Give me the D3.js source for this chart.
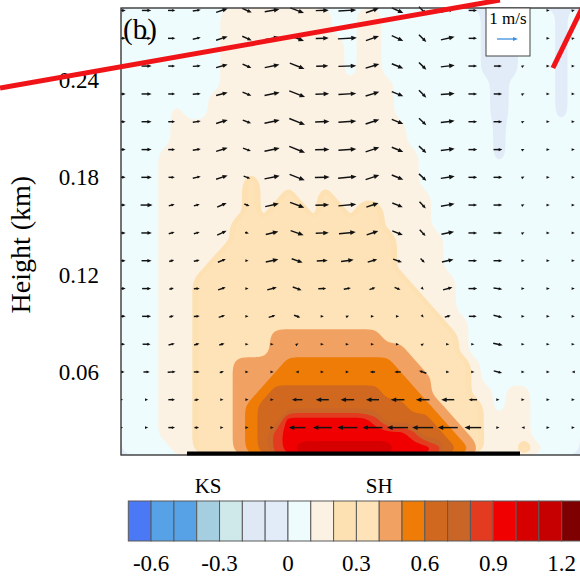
<!DOCTYPE html>
<html>
<head>
<meta charset="utf-8">
<script src="https://cdn.jsdelivr.net/npm/d3@7"></script>
<style>
  html, body { margin: 0; padding: 0; background: #fff; }
  svg { display: block; font-family: "Liberation Serif", "Times New Roman", serif; }
</style>
</head>
<body>
<svg id="chart" width="580" height="576"></svg>
<script>
// shading levels (lower bound of each band) and band colours
const levels = [-0.7, -0.6, -0.5, -0.4, -0.3, -0.2, -0.1, 0, 0.1, 0.2, 0.3, 0.4, 0.5, 0.6, 0.7, 0.8, 0.9, 1.0, 1.1, 1.2];
const fills = ['#4b79f5', '#57a1e7', '#57a1e7', '#a5cfe1', '#cfe9eb', '#dfe9f6', '#e2ecf8', '#effcfd',
               '#fcf2e4', '#fde1b2', '#fde3b7', '#f1a162', '#ee7c06', '#d0691f', '#c96527', '#e23b1f',
               '#f00000', '#d60000', '#c60000', '#7f0000'];
const cbTicks = [-0.6, -0.3, 0, 0.3, 0.6, 0.9, 1.2];
const cbNames = [{ label: 'KS', at: -0.35 }, { label: 'SH', at: 0.4 }];

// axes extents: horizontal grid units, height in km
const xRange = [-0.02, 18.27];
const zRange = [0.0088, 0.2844];
const yTicks = [0.06, 0.12, 0.18, 0.24];

// shaded field: one character per cell, top row first
const shadeCodes = { m: -0.15, n: -0.05, '0': 0.05, '1': 0.15, '2': 0.25, '3': 0.35, '4': 0.45,
                     '5': 0.55, '6': 0.65, '7': 0.75, '8': 0.85, '9': 0.95, A: 1.05, B: 1.15 };
const shadeRows = [
  '00000000111111111001100000000nnn000n0',
  '00000000111111111001100000000nnn000n0',
  '00000000111111111101100000000nnn000n0',
  '00000000111111111101100000000nnn000n0',
  '00000000111111111101100000000nnn000n0',
  '000000001111111111111100000000m0000n0',
  '000000011111111111111100000000m0000n0',
  '000010011111111111111100000000m0000n0',
  '000011111111111111111110000000n000000',
  '000011111111111111111110000000n000000',
  '000111111111111111111111000000n000000',
  '0001111111111111111111110000000000000',
  '0001111111311111111111110000000000000',
  '0001111111311311311111111000000000000',
  '0001111111313331331331111000000000000',
  '0001111113333333333331111000000000000',
  '0001111113333333333333111100000000000',
  '0001111133333333333333111100000000000',
  '0001111333333333333333111100000000000',
  '0001113333333333333333311110000000000',
  '0001113333333333333333331110000000000',
  '0001113333333333333333333110000000000',
  '0001113333333333333333333311000000000',
  '0001113333334444444443333331000000000',
  '0001113333334444444444433331000000000',
  '0001113334444555555555443333100000000',
  '0001113334445555555555544333100000000',
  '0001113334456666666665554333110110000',
  '0001113334566666666666655433310110000',
  '0001113334566999999986666543311110000',
  '0001113334568999999999986654311110000',
  '00001133345689AAAAAAAA999865411131000'
];

// wind vectors (m/s), rows from top to bottom
const xArrow = [0, 1, 2, 3, 4, 5, 6, 7, 8, 9, 10, 11, 12, 13, 14, 15, 16, 17, 18];
const zArrow = [0.2829, 0.2657, 0.2486, 0.2314, 0.2143, 0.1971, 0.1800, 0.1629,
                0.1457, 0.1286, 0.1114, 0.0943, 0.0771, 0.0600, 0.0429, 0.0257];
const uRows = [
  [0.4, 0.45, 0.35, 0.38, 0.55, 0.45, 0.7, 0.65, 0.62, 0.85, 0.62, 0.55, 0.35, 0.65, 0.4, 0.35, 0.15, 0.08, 0.08],
  [0.4, 0.45, 0.35, 0.38, 0.55, 0.45, 0.7, 0.65, 0.62, 0.9, 0.62, 0.55, 0.35, 0.65, 0.4, 0.35, 0.15, 0.08, 0.08],
  [0.4, 0.48, 0.33, 0.38, 0.55, 0.42, 0.7, 0.7, 0.58, 0.85, 0.65, 0.55, 0.35, 0.66, 0.42, 0.38, 0.1, 0.06, 0.06],
  [0.4, 0.48, 0.33, 0.38, 0.55, 0.42, 0.72, 0.75, 0.65, 0.85, 0.65, 0.55, 0.35, 0.66, 0.42, 0.4, 0.1, 0.06, 0.08],
  [0.4, 0.48, 0.33, 0.38, 0.55, 0.4, 0.72, 0.75, 0.68, 0.85, 0.65, 0.55, 0.35, 0.66, 0.42, 0.42, 0.1, 0.06, 0.08],
  [0.4, 0.48, 0.33, 0.38, 0.55, 0.38, 0.72, 0.75, 0.68, 0.85, 0.65, 0.55, 0.35, 0.66, 0.42, 0.42, 0.1, 0.06, 0.08],
  [0.4, 0.5, 0.3, 0.38, 0.55, 0.32, 0.72, 0.72, 0.7, 0.88, 0.65, 0.55, 0.35, 0.66, 0.42, 0.42, 0.1, 0.06, 0.06],
  [0.4, 0.57, 0.28, 0.28, 0.45, 0.25, 0.65, 0.68, 0.65, 0.85, 0.58, 0.5, 0.3, 0.65, 0.42, 0.42, 0.1, 0.06, 0.06],
  [0.4, 0.5, 0.28, 0.28, 0.45, 0.18, 0.6, 0.62, 0.62, 0.8, 0.55, 0.5, 0.28, 0.6, 0.42, 0.42, 0.08, 0.06, 0.06],
  [0.4, 0.48, 0.24, 0.28, 0.38, 0.08, 0.6, 0.52, 0.52, 0.6, 0.45, 0.42, 0.2, 0.55, 0.42, 0.42, 0.08, 0.06, 0.06],
  [0.4, 0.43, 0.22, 0.28, 0.36, 0.06, 0.46, 0.42, 0.38, 0.34, 0.28, 0.28, 0.08, 0.45, 0.42, 0.42, 0.08, 0.06, 0.06],
  [0.4, 0.43, 0.22, 0.28, 0.3, 0.06, 0.32, 0.3, 0.1, 0.15, 0.06, 0.06, 0.05, 0.28, 0.38, 0.42, 0.06, 0.06, 0.08],
  [0.35, 0.38, 0.3, 0.25, 0.25, 0.06, 0.08, 0.06, 0.06, 0.06, 0.06, 0.06, 0.08, 0.06, 0.06, 0.45, 0.06, 0.06, 0.06],
  [0.3, 0.3, 0.38, 0.28, 0.2, 0.06, 0.06, -0.06, 0.06, 0.06, -0.25, -0.3, -0.35, 0.06, 0.06, 0.4, 0.06, 0.06, -0.08],
  [0.15, 0.15, 0.32, 0.22, 0.1, 0.06, 0.06, -0.5, -0.62, -0.65, -0.62, -0.65, -0.65, -0.62, -0.4, 0.06, 0.06, 0.06, 0.06],
  [0.12, 0.12, 0.32, 0.22, 0.06, 0.06, 0.06, -0.8, -0.9, -0.95, -0.95, -1.0, -1.0, -0.95, -0.8, 0.06, -0.15, 0.06, 0.06]
];
const wRows = [
  [0, 0, 0, 0.06, 0.18, -0.2, 0.12, -0.25, 0.02, 0.05, 0.22, -0.25, -0.35, 0.15, 0, 0, 0.05, 0, 0.02],
  [0, 0, 0, 0.08, 0.18, -0.2, 0.12, -0.25, 0.02, 0.05, 0.22, -0.25, -0.35, 0.15, 0, 0, 0.05, 0, 0.02],
  [0, 0, 0, 0.03, 0.15, -0.18, 0.15, -0.28, 0.02, 0.03, 0.2, -0.22, -0.35, 0.08, 0, 0, 0.06, 0, 0],
  [0, 0, 0, 0.03, 0.15, -0.18, 0.15, -0.3, 0.02, 0.05, 0.2, -0.22, -0.35, 0.05, 0, 0, 0.05, 0, 0],
  [0, 0, 0, 0.06, 0.17, -0.15, 0.15, -0.3, 0.02, 0.06, 0.22, -0.22, -0.33, 0.08, 0, 0, 0.05, 0, 0],
  [0, 0, 0, 0.06, 0.17, -0.14, 0.15, -0.3, 0.02, 0.06, 0.22, -0.22, -0.33, 0.08, 0, 0, 0.05, 0, 0],
  [0, 0, 0, 0.08, 0.18, -0.12, 0.15, -0.28, 0.02, 0.08, 0.22, -0.22, -0.33, 0.1, 0, 0, 0.05, 0, 0],
  [0, 0, 0.08, 0.08, 0.2, -0.1, 0.15, -0.25, 0.02, 0.08, 0.2, -0.2, -0.32, 0.12, 0, 0, 0.05, 0, 0],
  [0, 0, 0.08, 0.08, 0.2, -0.06, 0.15, -0.22, 0.02, 0.08, 0.18, -0.2, -0.3, 0.12, 0, 0, 0.04, 0, 0],
  [0, 0, 0.07, 0.06, 0.15, 0, 0.13, -0.18, 0.02, 0.08, 0.14, -0.15, -0.2, 0.12, 0, 0, 0, 0, 0],
  [0, 0, 0.06, 0.02, 0.12, 0, 0.12, -0.15, 0.02, 0.06, 0.1, -0.12, -0.08, 0.12, 0, -0.06, 0, 0, 0],
  [0, 0, 0.06, 0.02, 0.1, 0, 0.1, -0.1, 0, 0.08, 0, 0, -0.06, 0.08, 0, -0.1, 0, 0, 0],
  [0, 0, 0.08, 0.08, 0.08, 0, 0, 0.04, 0, 0, 0, 0, 0.05, 0, 0, -0.1, 0, 0, 0],
  [0, 0, 0.02, 0, 0.06, 0, 0, 0, 0, 0, 0, 0, 0.12, 0, 0, -0.1, 0, 0, 0],
  [0, 0, 0, 0.05, 0, 0, 0, 0, 0, 0, 0, 0, 0, 0, 0, 0, 0, 0, 0],
  [0, 0, 0, 0, 0, 0, 0, 0, 0, 0, 0, 0, 0, 0, 0, 0, 0, 0, 0]
];

// thick surface strip along the bottom, in grid units
const ground = [2.61, 15.88];
// red strokes drawn over the figure, in (grid unit, km)
const redMarks = [
  [[-4.84, 0.2351], [15.08, 0.2893]],
  [[18.51, 0.2893], [17.19, 0.2474]]
];

const W = 580, H = 576;
const margin = { left: 121, top: 8, right: 0, bottom: 121 };
const plotW = W - margin.left - margin.right;
const plotH = H - margin.top - margin.bottom;

const svg = d3.select('#chart');

const x = d3.scaleLinear().domain(xRange).range([margin.left, margin.left + plotW]);
const y = d3.scaleLinear().domain(zRange).range([margin.top + plotH, margin.top]);
const speed = d3.scaleLinear().domain([0, 1]).range([0, 21]);

// ---- shading ----
const nx = shadeRows[0].length, nz = shadeRows.length;
const values = [];
shadeRows.forEach(row => {
  for (let i = 0; i < nx; i++) values.push(shadeCodes[row[i]]);
});

const gx = d3.scaleLinear().domain([0, nx]).range(xRange);
const gz = d3.scaleLinear().domain([0, nz]).range([zRange[1], zRange[0]]);

const bands = d3.contours().size([nx, nz]).thresholds(levels)(values);

// rounded outlines instead of the raw marching-squares staircase
const ring = d3.line()
    .x(p => x(gx(p[0])))
    .y(p => y(gz(p[1])))
    .curve(d3.curveBasisClosed);

function bandPath(d) {
  return d.coordinates.map(poly => poly.map(r => ring(r.slice(0, -1))).join('')).join('');
}

svg.append('clipPath').attr('id', 'shade-clip')
  .append('rect')
    .attr('x', margin.left).attr('y', margin.top)
    .attr('width', plotW + 1).attr('height', plotH);

svg.append('clipPath').attr('id', 'plot-clip')
  .append('rect')
    .attr('x', margin.left).attr('y', 0)
    .attr('width', plotW + 1).attr('height', margin.top + plotH + 4);

const shade = svg.append('g')
    .attr('class', 'shading')
    .attr('clip-path', 'url(#shade-clip)');

shade.append('rect')
    .attr('x', margin.left).attr('y', margin.top)
    .attr('width', plotW + 1).attr('height', plotH)
    .attr('fill', fills[levels.indexOf(0)]);

shade.selectAll('path')
  .data(bands.filter(d => d.value > 0))
  .enter().append('path')
    .attr('d', bandPath)
    .attr('fill-rule', 'evenodd')
    .attr('fill', d => fills[levels.indexOf(d.value)])
    .attr('stroke', 'none');

// negative patches: the complement of the 0 level, in the -0.1..0 colour
const below = bands.filter(d => d.value === 0)[0];
shade.append('path')
    .attr('d', `M${margin.left - 5},${margin.top - 5}h${plotW + 10}v${plotH + 10}h${-plotW - 10}Z` + bandPath(below))
    .attr('fill-rule', 'evenodd')
    .attr('fill', fills[levels.indexOf(-0.1)]);

// ---- vectors ----
const vectors = [];
zArrow.forEach((z, r) => {
  xArrow.forEach((xa, c) => {
    vectors.push({ x: xa, z: z, u: uRows[r][c], w: wRows[r][c] });
  });
});

function arrowGeom(d) {
  const cx = x(d.x), cy = y(d.z);
  let dx = speed(d.u), dy = -speed(d.w);
  let len = Math.hypot(dx, dy);
  const ux = len > 0 ? dx / len : 1, uy = len > 0 ? dy / len : 0;
  const head = Math.min(5.5, Math.max(3.2, len * 0.42));
  if (len < head) len = head;
  const tip = [cx + ux * len / 2, cy + uy * len / 2];
  const tail = [cx - ux * len / 2, cy - uy * len / 2];
  const base = [tip[0] - ux * head, tip[1] - uy * head];
  const hw = head * 0.42;
  return {
    line: [tail, [tip[0] - ux * head * 0.6, tip[1] - uy * head * 0.6]],
    head: [tip, [base[0] - uy * hw, base[1] + ux * hw], [base[0] + uy * hw, base[1] - ux * hw]],
    long: len > head + 0.5
  };
}

const vec = svg.append('g')
    .attr('class', 'vectors')
    .attr('clip-path', 'url(#plot-clip)')
  .selectAll('g')
  .data(vectors.map(arrowGeom))
  .enter().append('g');

vec.filter(d => d.long).append('path')
    .attr('d', d => d3.line()(d.line))
    .attr('stroke', '#121212')
    .attr('stroke-width', 1.45)
    .attr('fill', 'none');

vec.append('path')
    .attr('d', d => d3.line()(d.head) + 'Z')
    .attr('fill', '#121212');

// ---- frame, surface strip ----
svg.append('rect')
    .attr('x', margin.left).attr('y', margin.top)
    .attr('width', plotW + 2).attr('height', plotH)
    .attr('fill', 'none')
    .attr('stroke', '#2a2a2a')
    .attr('stroke-width', 1.3);

svg.append('line')
    .attr('x1', x(ground[0])).attr('x2', x(ground[1]))
    .attr('y1', y(zRange[0]) - 1.5).attr('y2', y(zRange[0]) - 1.5)
    .attr('stroke', '#000')
    .attr('stroke-width', 4);

// ---- y axis ----
svg.append('g')
    .attr('transform', `translate(${margin.left},0)`)
    .call(d3.axisLeft(y).tickValues(yTicks).tickSize(0).tickPadding(22).tickFormat(d => d.toFixed(2)))
    .attr('font-size', 23)
    .attr('font-family', '"Liberation Serif", serif')
    .call(g => g.select('.domain').remove());

svg.append('text')
    .attr('transform', `translate(30,${y(0.1385)}) rotate(-90)`)
    .attr('text-anchor', 'middle')
    .attr('font-size', 28)
    .text('Height (km)');

svg.append('text')
    .attr('x', margin.left + 2).attr('y', 39)
    .attr('font-size', 29)
    .text('(b)');

// ---- reference vector ----
const key = svg.append('g').attr('transform', 'translate(486,8)');
key.append('rect')
    .attr('width', 44).attr('height', 48)
    .attr('fill', '#fff')
    .attr('stroke', '#444')
    .attr('stroke-width', 1);
key.append('text')
    .attr('x', 22).attr('y', 16)
    .attr('text-anchor', 'middle')
    .attr('font-size', 17)
    .text('1 m/s');
const kx0 = 11, kx1 = 11 + speed(1), ky = 31;
key.append('line')
    .attr('x1', kx0).attr('x2', kx1 - 3).attr('y1', ky).attr('y2', ky)
    .attr('stroke', '#3d8fe0').attr('stroke-width', 1.3);
key.append('path')
    .attr('d', d3.line()([[kx1, ky], [kx1 - 5, ky - 2], [kx1 - 5, ky + 2]]) + 'Z')
    .attr('fill', '#3d8fe0');

// ---- colour bar ----
const cb = d3.scaleLinear().domain([-0.7, 1.3]).range([128.3, 584.5]);
const cbTop = 501, cbH = 40;

svg.append('g')
    .attr('class', 'colorbar')
  .selectAll('rect')
  .data(levels)
  .enter().append('rect')
    .attr('x', d => cb(d))
    .attr('y', cbTop)
    .attr('width', d => cb(d + 0.1) - cb(d))
    .attr('height', cbH)
    .attr('fill', (d, i) => fills[i])
    .attr('stroke', '#5a5a5a')
    .attr('stroke-width', 1);

svg.append('g')
  .selectAll('text')
  .data(cbTicks)
  .enter().append('text')
    .attr('x', d => cb(d))
    .attr('y', 571)
    .attr('text-anchor', 'middle')
    .attr('font-size', 23)
    .text(d => d === 0 ? '0' : d.toFixed(1));

svg.append('g')
  .selectAll('text')
  .data(cbNames)
  .enter().append('text')
    .attr('x', d => cb(d.at))
    .attr('y', 493)
    .attr('text-anchor', 'middle')
    .attr('font-size', 21)
    .text(d => d.label);

// ---- red strokes on top ----
svg.append('g')
  .selectAll('path')
  .data(redMarks)
  .enter().append('path')
    .attr('d', d => d3.line().x(p => x(p[0])).y(p => y(p[1]))(d))
    .attr('stroke', '#f01418')
    .attr('stroke-width', 5)
    .attr('fill', 'none');
</script>
</body>
</html>
